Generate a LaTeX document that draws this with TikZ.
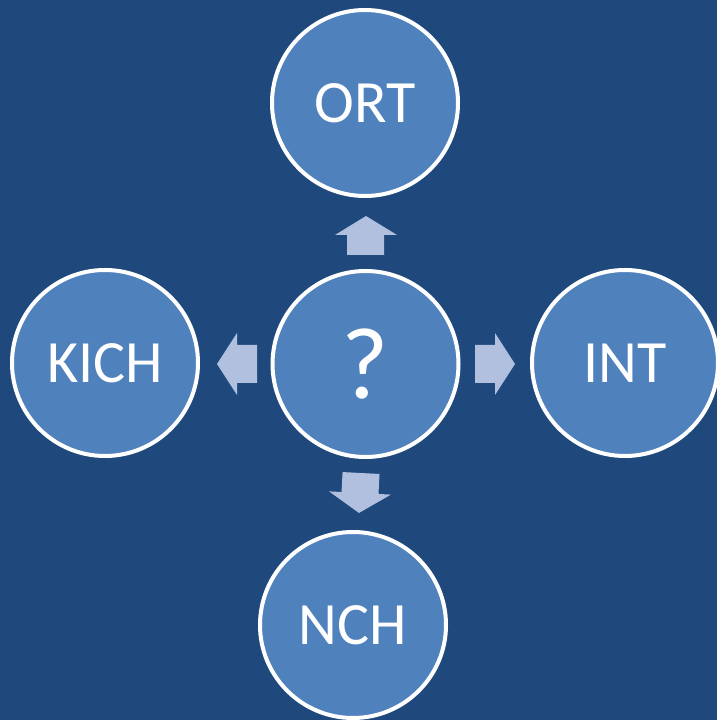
\documentclass[tikz,border=0pt]{standalone}
\usepackage{fontspec}
\setmainfont{Carlito}
\definecolor{bgblue}{RGB}{31,73,125}
\definecolor{circblue}{RGB}{79,129,189}
\definecolor{arrowblue}{RGB}{176,192,222}
\begin{document}
\begin{tikzpicture}[x=1pt,y=1pt,
  circ/.style={circle,draw=white,line width=4pt,fill=circblue,minimum size=186pt,inner sep=0pt,text=white,font=\fontsize{60}{62}\selectfont},
  blockarrow/.style={fill=arrowblue,draw=none}]
\fill[bgblue] (0,0) rectangle (717,720);
\useasboundingbox (0,0) rectangle (717,720);
\node[circ] (ort) at (365,617) {ORT};
\node[circ] (kich) at (105,357) {KICH};
\node[circ] (int) at (625,357) {INT};
\node[circ] (nch) at (353,95) {NCH};
\node[circ,font=\fontsize{102}{106}\selectfont] (q) at (365.5,356) {?};
% up arrow
\fill[blockarrow] (347,465) -- (347,485) -- (335,485) -- (366,504) -- (397,485) -- (384,485) -- (384,465) -- cycle;
% left arrow
\fill[blockarrow] (257,375) -- (237,375) -- (237,387) -- (217,356) -- (237,325) -- (237,337) -- (257,337) -- cycle;
% right arrow
\fill[blockarrow] (475,375) -- (495,375) -- (495,387) -- (515,356) -- (495,325) -- (495,337) -- (475,337) -- cycle;
% down arrow (slightly rotated)
\begin{scope}[shift={(360,227)},rotate=-3]
\fill[blockarrow] (-18.5,20) -- (18.5,20) -- (18.5,0) -- (31,0) -- (0,-20) -- (-31,0) -- (-18.5,0) -- cycle;
\end{scope}
\end{tikzpicture}
\end{document}
